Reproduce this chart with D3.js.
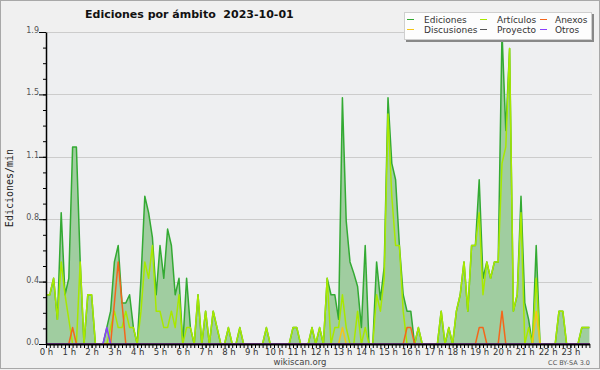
<!DOCTYPE html>
<html>
<head>
<meta charset="utf-8">
<script src="https://cdn.jsdelivr.net/npm/d3@7"></script>
<style>
  body { margin: 0; background: #f0f0f0; }
  svg { display: block; }
</style>
</head>
<body>
<svg id="chart"></svg>
<script>
// edits per minute, one value per 10 minute bin (0:00 .. 23:50), 6 bins per hour
var ediciones = [
    0.3, 0.3, 0.4, 0.15, 0.8, 0.3,   0.4, 1.2, 1.2, 0.5, 0, 0.3,   0.3, 0, 0, 0, 0.1, 0.2,   0.5, 0.6, 0.25, 0.25, 0.3, 0.1,
    0, 0.4, 0.9, 0.8, 0.65, 0.3,     0.6, 0.4, 0.7, 0.6, 0.3, 0.4,  0, 0.4, 0.1, 0, 0.3, 0,    0.2, 0, 0.2, 0.1, 0, 0,
    0.1, 0, 0, 0.1, 0, 0,            0, 0, 0, 0, 0.1, 0,            0, 0, 0, 0, 0, 0.1,        0.1, 0, 0, 0, 0.1, 0,
    0.1, 0, 0.4, 0.3, 0.3, 0.15,     1.5, 0.75, 0.5, 0.43, 0.35, 0.1, 0.6, 0, 0, 0.5, 0.27, 0.47, 1.5, 1.1, 1.0, 0.6, 0.3, 0.2,
    0.2, 0, 0.1, 0, 0, 0,            0, 0, 0.2, 0, 0.1, 0,          0.2, 0.3, 0.5, 0.2, 0.6, 0.6, 1.0, 0.4, 0.5, 0.4, 0.5, 0.5,
    1.9, 1.3, 1.8, 0.2, 0.3, 0.9,    0.25, 0.15, 0, 0.6, 0, 0,      0, 0, 0, 0.2, 0.2, 0,      0, 0, 0, 0.1, 0.1, 0.1
];
var articulos = [
    0.3, 0.3, 0.4, 0.15, 0.5, 0.3,   0.15, 0, 0, 0.5, 0, 0.3,      0.3, 0, 0, 0, 0, 0.1,      0.2, 0.1, 0.1, 0.2, 0.1, 0.1,
    0, 0.2, 0.5, 0.4, 0.6, 0.2,      0.2, 0.1, 0.1, 0.2, 0.1, 0.3,  0, 0.1, 0.1, 0, 0.3, 0,    0.2, 0, 0.2, 0.1, 0, 0,
    0.1, 0, 0, 0.1, 0, 0,            0, 0, 0, 0, 0.1, 0,            0, 0, 0, 0, 0, 0.1,        0.1, 0, 0, 0, 0.1, 0,
    0.1, 0, 0.4, 0, 0.1, 0.1,        0.3, 0.1, 0, 0, 0.2, 0,        0.1, 0, 0, 0.3, 0.2, 0.4,  1.4, 0.9, 0.6, 0.6, 0.2, 0,
    0, 0, 0.1, 0, 0, 0,              0, 0, 0.2, 0, 0.1, 0,          0.2, 0.3, 0.5, 0.2, 0.6, 0.6, 0.8, 0.3, 0.5, 0.4, 0.5, 0.5,
    1.1, 1.2, 1.8, 0.2, 0.3, 0.8,    0, 0.1, 0, 0.4, 0, 0,          0, 0, 0, 0.2, 0.2, 0,      0, 0, 0, 0.1, 0.1, 0.1
];
var anexos = [
    0, 0, 0, 0, 0, 0,   0, 0.1, 0, 0, 0, 0,   0, 0, 0, 0, 0, 0,   0.25, 0.5, 0.25, 0, 0, 0,
    0, 0, 0, 0, 0, 0,   0, 0, 0, 0, 0, 0,     0, 0, 0, 0, 0, 0,   0, 0, 0, 0, 0, 0,
    0, 0, 0, 0, 0, 0,   0, 0, 0, 0, 0, 0,     0, 0, 0, 0, 0, 0,   0, 0, 0, 0, 0, 0,
    0, 0, 0, 0, 0, 0,   0, 0, 0, 0, 0, 0,     0, 0, 0, 0, 0, 0,   0, 0, 0, 0, 0, 0.1,
    0.1, 0, 0, 0, 0, 0, 0, 0, 0, 0, 0, 0,     0, 0, 0, 0, 0, 0,   0.1, 0.1, 0, 0, 0, 0,
    0.2, 0, 0, 0, 0, 0, 0, 0, 0, 0, 0, 0,     0, 0, 0, 0, 0, 0,   0, 0, 0, 0, 0, 0
];
var discusiones = [
    0, 0, 0, 0, 0, 0,   0, 0, 0, 0, 0, 0,     0, 0, 0, 0, 0, 0,   0, 0, 0, 0, 0, 0,
    0, 0, 0, 0, 0, 0,   0, 0, 0, 0, 0, 0,     0, 0, 0, 0, 0, 0,   0, 0, 0, 0, 0, 0,
    0, 0, 0, 0, 0, 0,   0, 0, 0, 0, 0, 0,     0, 0, 0, 0, 0, 0,   0, 0, 0, 0, 0, 0,
    0, 0, 0, 0, 0, 0,   0.1, 0, 0, 0, 0, 0,   0, 0, 0, 0, 0, 0,   0, 0, 0, 0, 0, 0,
    0, 0, 0, 0, 0, 0,   0, 0, 0, 0, 0, 0,     0, 0, 0, 0, 0, 0,   0, 0, 0, 0, 0, 0,
    0, 0, 0, 0, 0, 0,   0, 0, 0, 0.2, 0, 0,   0, 0, 0, 0, 0, 0,   0, 0, 0, 0, 0, 0
];
var proyecto = [
    0, 0, 0, 0, 0, 0,   0, 0, 0, 0, 0, 0,     0, 0, 0, 0, 0, 0,   0, 0, 0, 0, 0, 0,
    0, 0, 0, 0, 0, 0,   0, 0, 0, 0, 0, 0,     0, 0, 0, 0, 0, 0,   0, 0, 0, 0, 0, 0,
    0, 0, 0, 0, 0, 0,   0, 0, 0, 0, 0, 0,     0, 0, 0, 0, 0, 0,   0, 0, 0, 0, 0, 0,
    0, 0, 0, 0, 0, 0,   0, 0, 0, 0, 0, 0,     0, 0, 0, 0, 0, 0,   0, 0, 0, 0, 0, 0,
    0, 0, 0, 0, 0, 0,   0, 0, 0, 0, 0, 0,     0, 0, 0, 0, 0, 0,   0, 0, 0, 0, 0, 0,
    0, 0, 0, 0, 0, 0,   0, 0, 0, 0, 0, 0,     0, 0, 0, 0, 0, 0,   0, 0, 0, 0, 0, 0
];
var otros = [
    0, 0, 0, 0, 0, 0,   0, 0, 0, 0, 0, 0,     0, 0, 0, 0, 0.1, 0, 0, 0, 0, 0, 0, 0,
    0, 0, 0, 0, 0, 0,   0, 0, 0, 0, 0, 0,     0, 0, 0, 0, 0, 0,   0, 0, 0, 0, 0, 0,
    0, 0, 0, 0, 0, 0,   0, 0, 0, 0, 0, 0,     0, 0, 0, 0, 0, 0,   0, 0, 0, 0, 0, 0,
    0, 0, 0, 0, 0, 0,   0, 0, 0, 0, 0, 0,     0, 0, 0, 0, 0, 0,   0, 0, 0, 0, 0, 0,
    0, 0, 0, 0, 0, 0,   0, 0, 0, 0, 0, 0,     0, 0, 0, 0, 0, 0,   0, 0, 0, 0, 0, 0,
    0, 0, 0, 0, 0, 0,   0, 0, 0, 0, 0, 0,     0, 0, 0, 0, 0, 0,   0, 0, 0, 0, 0, 0
];

var yTicks = [0, 0.38, 0.76, 1.14, 1.52, 1.9];
var hourLabels = d3.range(24).map(h => h + " h");
var legendNames = ["Ediciones", "Artículos", "Anexos", "Discusiones", "Proyecto", "Otros"];

var dimensions = {
    width: 600,
    height: 370,
    margin: { top: 32, bottom: 26, right: 11, left: 46 }
};

var colors = {
    Ediciones: "#33aa33",
    "Artículos": "#a8e800",
    Anexos: "#f4661b",
    Discusiones: "#f5c518",
    Proyecto: "#555555",
    Otros: "#8a3ffc"
};

var svg = d3.select("#chart")
    .attr("width", dimensions.width)
    .attr("height", dimensions.height);

// background + frame
svg.append("rect")
    .attr("x", 0.5).attr("y", 0.5)
    .attr("width", dimensions.width - 1).attr("height", dimensions.height - 2)
    .attr("fill", "#f0f0f0")
    .attr("stroke", "#a8a8a8");

var x0 = dimensions.margin.left;
var x1 = 589.4;
var yBottom = dimensions.height - 26;

var xScale = d3.scaleLinear()
    .domain([0, ediciones.length - 1])
    .range([x0, x1]);

var yScale = d3.scaleLinear()
    .domain([0, 1.9])
    .range([yBottom, dimensions.margin.top]);

// plot background
svg.append("rect")
    .attr("x", x0).attr("y", dimensions.margin.top)
    .attr("width", 592 - x0).attr("height", yBottom - dimensions.margin.top)
    .attr("fill", "#eeeff1");

// grid
svg.append("g")
    .selectAll("line")
    .data(yTicks.slice(1))
    .enter()
    .append("line")
    .attr("x1", x0).attr("x2", 592)
    .attr("y1", d => Math.round(yScale(d)) + 0.5)
    .attr("y2", d => Math.round(yScale(d)) + 0.5)
    .attr("stroke", "#cccccc");

svg.append("clipPath").attr("id", "plotclip")
    .append("rect")
    .attr("x", x0).attr("y", 0)
    .attr("width", 600).attr("height", yBottom);

var plot = svg.append("g").attr("clip-path", "url(#plotclip)");

var area = d3.area()
    .x((d, i) => xScale(i))
    .y0(yScale(0))
    .y1(d => yScale(d));

var line = d3.line()
    .x((d, i) => xScale(i))
    .y(d => yScale(d));

plot.append("path")
    .datum(ediciones)
    .attr("d", area)
    .attr("fill", "#a0cda0");

var series = [
    ["Ediciones", ediciones],
    ["Proyecto", proyecto],
    ["Artículos", articulos],
    ["Discusiones", discusiones],
    ["Anexos", anexos],
    ["Otros", otros]
];

plot.selectAll(".serie")
    .data(series)
    .enter()
    .append("path")
    .attr("class", "serie")
    .attr("d", d => line(d[1]))
    .attr("fill", "none")
    .attr("stroke", d => colors[d[0]])
    .attr("stroke-width", 1.5)
    .attr("stroke-linejoin", "round");

// x axis
var xMinor = d3.axisBottom(xScale)
    .tickValues(d3.range(ediciones.length))
    .tickSize(4)
    .tickSizeOuter(0)
    .tickFormat("");
var gxm = svg.append("g")
    .attr("transform", `translate(0, ${yBottom})`)
    .call(xMinor);
gxm.select(".domain").attr("stroke", "#000").attr("stroke-width", 2);
gxm.selectAll(".tick line").attr("stroke", "#000");

var xAxis = d3.axisBottom(xScale)
    .tickValues(d3.range(0, ediciones.length, 6))
    .tickSize(4)
    .tickSizeOuter(0)
    .tickFormat(d => hourLabels[d / 6]);
var gx = svg.append("g")
    .attr("transform", `translate(0, ${yBottom})`)
    .call(xAxis);
gx.select(".domain").remove();
gx.selectAll(".tick line").attr("stroke", "#000");
gx.selectAll(".tick text")
    .attr("y", 5)
    .attr("fill", "#333")
    .style("font-family", "DejaVu Sans")
    .style("font-size", "8.5px");

// y axis
var yMinor = d3.axisLeft(yScale)
    .tickValues(d3.range(0, 20).map(k => k * 0.095))
    .tickSize(3)
    .tickSizeOuter(0)
    .tickFormat("");
var gym = svg.append("g")
    .attr("transform", `translate(${x0}, 0)`)
    .call(yMinor);
gym.select(".domain").attr("stroke", "#000").attr("stroke-width", 1.5);
gym.selectAll(".tick line").attr("stroke", "#000");

var yAxis = d3.axisLeft(yScale)
    .tickValues(yTicks)
    .tickSize(7)
    .tickSizeOuter(0)
    .tickFormat(d3.format(".1f"));
var gy = svg.append("g")
    .attr("transform", `translate(${x0}, 0)`)
    .call(yAxis);
gy.select(".domain").remove();
gy.selectAll(".tick line").attr("stroke", "#000");
gy.selectAll(".tick text")
    .attr("x", -7)
    .attr("dy", "0.05em")
    .attr("fill", "#555")
    .style("font-family", "DejaVu Sans")
    .style("font-size", "8px");

svg.append("text")
    .attr("transform", "translate(13, 188) rotate(-90)")
    .attr("text-anchor", "middle")
    .style("font-family", "DejaVu Sans Mono")
    .style("font-size", "10px")
    .attr("fill", "#222")
    .text("Ediciones/min");

// title
svg.append("text")
    .attr("x", 85).attr("y", 18)
    .style("font-family", "DejaVu Sans")
    .style("font-weight", "bold")
    .style("font-size", "11px")
    .attr("fill", "#111")
    .attr("xml:space", "preserve")
    .text("Ediciones por ámbito  2023-10-01");

// legend
var legend = svg.append("g");
legend.append("rect")
    .attr("x", 406).attr("y", 14)
    .attr("width", 188).attr("height", 28)
    .attr("fill", "#888");
legend.append("rect")
    .attr("x", 404.5).attr("y", 12.5)
    .attr("width", 187).attr("height", 27)
    .attr("fill", "#fdfdfd")
    .attr("stroke", "#cfcfcf");

var colX = [407, 480, 540];
var colText = [424, 497, 555];
legend.selectAll(".item")
    .data(legendNames)
    .enter()
    .append("g")
    .attr("class", "item")
    .each(function(d, i) {
        var g = d3.select(this);
        var c = i % 3, r = Math.floor(i / 3);
        var cy = 19.5 + r * 10;
        g.append("line")
            .attr("x1", colX[c]).attr("x2", colX[c] + 7)
            .attr("y1", cy).attr("y2", cy)
            .attr("stroke", colors[d]).attr("stroke-width", 1);
        g.append("text")
            .attr("x", colText[c]).attr("y", cy + 3)
            .style("font-family", "DejaVu Sans")
            .style("font-size", "9px")
            .attr("fill", "#333")
            .text(d);
    });

svg.append("text")
    .attr("x", 300).attr("y", 365)
    .attr("text-anchor", "middle")
    .style("font-family", "DejaVu Sans")
    .style("font-size", "8.5px")
    .attr("fill", "#444")
    .text("wikiscan.org");

svg.append("text")
    .attr("x", 590).attr("y", 365)
    .attr("text-anchor", "end")
    .style("font-family", "DejaVu Sans")
    .style("font-size", "6.5px")
    .attr("fill", "#555")
    .text("CC BY-SA 3.0");
</script>
</body>
</html>
